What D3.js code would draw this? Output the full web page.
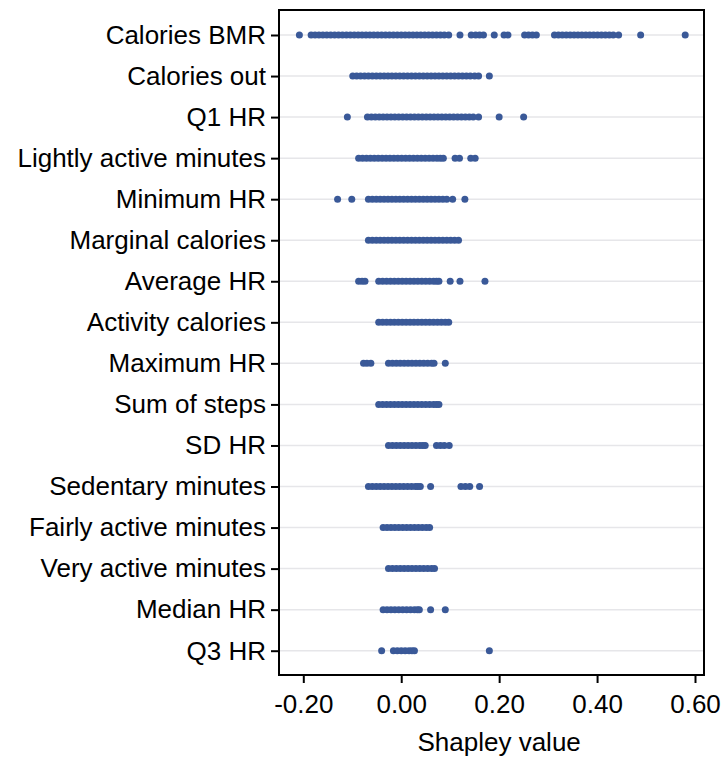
<!DOCTYPE html>
<html>
<head>
<meta charset="utf-8">
<script src="https://cdn.jsdelivr.net/npm/d3@7"></script>
<style>
  body { margin: 0; background: #fff; }
  text { font-family: "Liberation Sans", Arial, sans-serif; }
</style>
</head>
<body>
<div id="chart-holder"></div>
<script>
// features, top to bottom
var features = ["Calories BMR", "Calories out", "Q1 HR", "Lightly active minutes", "Minimum HR",
  "Marginal calories ", "Average HR", "Activity calories", "Maximum HR", "Sum of steps", "SD HR",
  "Sedentary minutes", "Fairly active minutes", "Very active minutes", "Median HR", "Q3 HR"];

// shapley values per feature
var caloriesBMR = [-0.208, -0.184, -0.176, -0.168, -0.160, -0.152, -0.144, -0.136, -0.128, -0.120, -0.112,
  -0.104, -0.096, -0.088, -0.080, -0.072, -0.064, -0.056, -0.048, -0.040, -0.032, -0.024, -0.016, -0.008,
  0.000, 0.008, 0.016, 0.024, 0.032, 0.040, 0.048, 0.056, 0.064, 0.072, 0.080, 0.088, 0.097,
  0.120, 0.143, 0.152, 0.160, 0.168, 0.190, 0.210, 0.218, 0.252, 0.260, 0.268, 0.276,
  0.313, 0.321, 0.329, 0.337, 0.345, 0.353, 0.361, 0.369, 0.377, 0.385, 0.393, 0.401, 0.409, 0.417,
  0.425, 0.433, 0.444, 0.489, 0.580];
var caloriesOut = [-0.099, -0.091, -0.083, -0.075, -0.067, -0.059, -0.051, -0.043, -0.035, -0.027, -0.019,
  -0.011, -0.003, 0.005, 0.013, 0.021, 0.029, 0.037, 0.045, 0.053, 0.061, 0.069, 0.077, 0.085, 0.093,
  0.101, 0.109, 0.117, 0.125, 0.133, 0.141, 0.150, 0.158, 0.180];
var q1HR = [-0.110, -0.069, -0.061, -0.053, -0.045, -0.037, -0.029, -0.021, -0.013, -0.005, 0.003, 0.011,
  0.019, 0.027, 0.035, 0.043, 0.051, 0.059, 0.067, 0.075, 0.083, 0.091, 0.099, 0.107, 0.115, 0.123,
  0.131, 0.139, 0.147, 0.158, 0.200, 0.250];
var lightlyActive = [-0.087, -0.079, -0.071, -0.063, -0.055, -0.047, -0.039, -0.031, -0.023, -0.015,
  -0.007, 0.001, 0.009, 0.017, 0.025, 0.033, 0.041, 0.049, 0.057, 0.065, 0.073, 0.080, 0.086,
  0.110, 0.119, 0.142, 0.151];
var minimumHR = [-0.130, -0.101, -0.067, -0.059, -0.051, -0.043, -0.035, -0.027, -0.019, -0.011, -0.003,
  0.005, 0.013, 0.021, 0.029, 0.037, 0.045, 0.053, 0.061, 0.069, 0.077, 0.085, 0.093, 0.105, 0.130];
var marginalCalories = [-0.067, -0.059, -0.051, -0.043, -0.035, -0.027, -0.019, -0.011, -0.003, 0.005,
  0.013, 0.021, 0.029, 0.037, 0.045, 0.053, 0.061, 0.069, 0.077, 0.085, 0.093, 0.101, 0.109, 0.117];
var averageHR = [-0.087, -0.080, -0.074, -0.046, -0.038, -0.030, -0.022, -0.014, -0.006, 0.002, 0.010,
  0.018, 0.026, 0.034, 0.042, 0.050, 0.058, 0.066, 0.072, 0.077, 0.100, 0.120, 0.171];
var activityCalories = [-0.046, -0.038, -0.030, -0.022, -0.014, -0.006, 0.002, 0.010, 0.018, 0.026,
  0.034, 0.042, 0.050, 0.058, 0.066, 0.074, 0.082, 0.090, 0.097];
var maximumHR = [-0.077, -0.070, -0.062, -0.026, -0.018, -0.010, -0.002, 0.006, 0.014, 0.022, 0.030,
  0.038, 0.046, 0.054, 0.062, 0.067, 0.090];
var sumOfSteps = [-0.046, -0.038, -0.030, -0.022, -0.014, -0.006, 0.002, 0.010, 0.018, 0.026, 0.034,
  0.042, 0.050, 0.058, 0.066, 0.072, 0.077];
var sdHR = [-0.026, -0.018, -0.010, -0.002, 0.006, 0.014, 0.022, 0.030, 0.038, 0.044, 0.049,
  0.072, 0.080, 0.088, 0.098];
var sedentary = [-0.067, -0.059, -0.051, -0.043, -0.035, -0.027, -0.019, -0.011, -0.003, 0.005, 0.013,
  0.021, 0.029, 0.034, 0.039, 0.060, 0.122, 0.131, 0.140, 0.160];
var fairlyActive = [-0.037, -0.029, -0.021, -0.013, -0.005, 0.003, 0.011, 0.019, 0.027, 0.035, 0.043,
  0.051, 0.058];
var veryActive = [-0.026, -0.018, -0.010, -0.002, 0.006, 0.014, 0.022, 0.030, 0.038, 0.046, 0.054,
  0.062, 0.068];
var medianHR = [-0.037, -0.029, -0.021, -0.013, -0.005, 0.003, 0.011, 0.019, 0.027, 0.033, 0.037,
  0.060, 0.090];
var q3HR = [-0.040, -0.016, -0.008, 0.000, 0.008, 0.016, 0.022, 0.027, 0.180];

var shapValues = [caloriesBMR, caloriesOut, q1HR, lightlyActive, minimumHR, marginalCalories, averageHR,
  activityCalories, maximumHR, sumOfSteps, sdHR, sedentary, fairlyActive, veryActive, medianHR, q3HR];

var xTicks = [-0.2, 0, 0.2, 0.4, 0.6];

// flatten into points
var points = [];
features.forEach(function (f, i) {
  shapValues[i].forEach(function (v) { points.push({ feature: f, value: v }); });
});

// set the dimensions and margins of the graph
var margin = { top: 10, right: 19, bottom: 86, left: 279 },
  width = 723 - margin.left - margin.right,
  height = 761 - margin.top - margin.bottom;

var svg = d3.select("#chart-holder")
  .append("svg")
  .attr("width", 723)
  .attr("height", 761)
  .append("g")
  .attr("transform", "translate(" + margin.left + "," + margin.top + ")");

var x = d3.scaleLinear()
  .domain([-0.2, 0.6])
  .range([24.3, 416]);

var y = d3.scalePoint()
  .domain(features)
  .range([25, 640.7]);

// gridlines
svg.selectAll("line.grid")
  .data(features)
  .enter()
  .append("line")
  .attr("class", "grid")
  .attr("x1", 0)
  .attr("x2", width)
  .attr("y1", function (d) { return y(d); })
  .attr("y2", function (d) { return y(d); })
  .style("stroke", "#e6e6e9")
  .style("stroke-width", 1.5);

// dots
svg.selectAll("circle.dot")
  .data(points)
  .enter()
  .append("circle")
  .attr("class", "dot")
  .attr("cx", function (d) { return x(d.value); })
  .attr("cy", function (d) { return y(d.feature); })
  .attr("r", 3.5)
  .style("fill", "#3a5998");

// X axis (plain hyphen for negatives, like the original)
var xAxis = svg.append("g")
  .attr("transform", "translate(0," + height + ")")
  .call(d3.axisBottom(x).tickValues(xTicks)
    .tickFormat(function (d) { return d.toFixed(2); })
    .tickSize(8).tickPadding(12));

// Y axis
var yAxis = svg.append("g")
  .call(d3.axisLeft(y).tickSize(8).tickPadding(5));

[xAxis, yAxis].forEach(function (a) {
  a.select(".domain").remove();
  a.selectAll(".tick line").style("stroke", "#000").style("stroke-width", 2);
  a.selectAll(".tick text")
    .style("font-size", "26px")
    .style("fill", "#000")
    .style("font-family", "'Liberation Sans', Arial, sans-serif");
});

// frame
svg.append("rect")
  .attr("x", 0)
  .attr("y", 0)
  .attr("width", width)
  .attr("height", height)
  .style("fill", "none")
  .style("stroke", "#000")
  .style("stroke-width", 2);

// axis title
svg.append("text")
  .attr("x", (x(-0.2) + x(0.6)) / 2)
  .attr("y", height + 76)
  .attr("text-anchor", "middle")
  .style("font-size", "26px")
  .style("fill", "#000")
  .text("Shapley value");
</script>
</body>
</html>
